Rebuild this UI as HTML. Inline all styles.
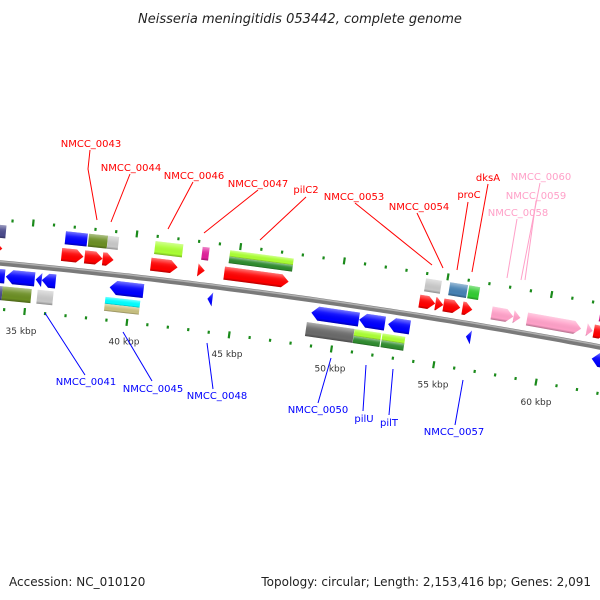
<!DOCTYPE html>
<html><head><meta charset="utf-8"><style>
html,body{margin:0;padding:0;background:#fff;}
svg{display:block;font-family:"DejaVu Sans","Liberation Sans",sans-serif;}
</style></head><body>
<svg id="s" width="600" height="600" xmlns="http://www.w3.org/2000/svg">
<defs id="d"></defs>
<text x="300" y="23" text-anchor="middle" font-size="13" font-style="italic" fill="#222">Neisseria meningitidis 053442, complete genome</text>
<text x="9" y="586" font-size="12" fill="#222">Accession: NC_010120</text>
<text x="591" y="586" text-anchor="end" font-size="12" fill="#222">Topology: circular; Length: 2,153,416 bp; Genes: 2,091</text>
<g id="g"></g>
</svg>
<script>
var NS="http://www.w3.org/2000/svg";
var g=document.getElementById('g'),defs=document.getElementById('d');
function Y(x){return 263+0.0933*x+0.0000778*x*x;}
function A(x){return Math.atan(0.0933+2*0.0000778*x)*180/Math.PI;}
function el(t,a,p){var e=document.createElementNS(NS,t);for(var k in a)e.setAttribute(k,a[k]);(p||g).appendChild(e);return e;}
// backbone
var pts=[];for(var x=-10;x<=610;x+=10)pts.push(x+","+Y(x).toFixed(1));
el('polyline',{points:pts.join(' '),fill:'none',stroke:'#7a7a7a','stroke-width':5.5});
el('polyline',{points:pts.join(' '),fill:'none',stroke:'#b0b0b0','stroke-width':1.5,transform:'translate(0,-1.5)'});
var gi=0,gc={};
function grad(c){if(gc[c])return gc[c];var id='gr'+(gi++);var lg=el('linearGradient',{id:id,x1:0,y1:0,x2:0,y2:1},defs);
el('stop',{offset:'0','stop-color':'#fff','stop-opacity':0.45},lg);el('stop',{offset:'0.35','stop-color':'#fff','stop-opacity':0.1},lg);
el('stop',{offset:'0.8','stop-color':'#000','stop-opacity':0},lg);el('stop',{offset:'1','stop-color':'#000','stop-opacity':0.3},lg);gc[c]=id;return id;}
function grp(xc){return el('g',{transform:'translate('+xc+','+Y(xc).toFixed(2)+') rotate('+A(xc).toFixed(2)+')'});}
var ROWS={F1:[-21,-8],F2:[-38,-25],R1:[6,20],R2:[23,37]};
// dir: 1 right arrow, -1 left arrow, 0 box
function feat(x1,x2,row,color,dir,half){
 var xc=(x1+x2)/2,w=x2-x1,h=w/2,r=ROWS[row],v1=r[0],v2=r[1];
 if(half==1)v2=(r[0]+r[1])/2; if(half==2)v1=(r[0]+r[1])/2;
 var gp=grp(xc),p,vm=(v1+v2)/2,ah=Math.min(7,w);
 if(dir==1)p=[[-h,v1],[h-ah,v1],[h,vm],[h-ah,v2],[-h,v2]];
 else if(dir==-1)p=[[h,v1],[-h+ah,v1],[-h,vm],[-h+ah,v2],[h,v2]];
 else p=[[-h,v1],[h,v1],[h,v2],[-h,v2]];
 var s=p.map(function(q){return q[0].toFixed(1)+','+q[1];}).join(' ');
 el('polygon',{points:s,fill:color},gp);
 el('polygon',{points:s,fill:'url(#'+grad(color)+')'},gp);
}
// ticks
for(var k=33;k<=64;k++){
 var xc=29+20.6*(k-35);var gp=grp(xc);var maj=(k%5==0);
 var L=maj?7:3;
 el('rect',{x:-1,y:-43-L/2,width:2.2,height:L,fill:'#1a8a1a'},gp);
 el('rect',{x:-1,y:46-L/2,width:2.2,height:L,fill:'#1a8a1a'},gp);
 if(maj){var yy=Y(xc)+68,xx=xc-8-0.13*0;el('text',{x:xx,y:yy,'text-anchor':'middle','font-size':9,fill:'#333'}).textContent=k+' kbp';}
}
var R='#ff0000',B='#0000ff',P='#ffa0c8',LI='#aaff33',GR='#2e8b2e',OL='#6b8e23',GY='#c8c8c8',DG='#6a6a6a';
// upper F2
feat(-4,3,'F2','#4b4b8c',0);
feat(62,84,'F2',B,0);feat(85,104,'F2',OL,0);feat(104,115,'F2',GY,0);
feat(151,179,'F2',LI,0);feat(198,205,'F2','#e0209a',0);
feat(225,289,'F2',LI,0,1);feat(225,289,'F2',GR,0,2);
feat(420,436,'F2',GY,0);feat(444,462,'F2','#4682b4',0);feat(463,474,'F2','#33cc33',0);
feat(594,604,'F2','#e0209a',0);
// F1
feat(-6,1,'F1',R,1);
feat(60,82,'F1',R,1);feat(83,101,'F1',R,1);feat(101,112,'F1',R,1);
feat(149,176,'F1',R,1);feat(196,203,'F1',R,1);feat(222,287,'F1',R,1);
feat(417,433,'F1',R,1);feat(433,441,'F1',R,1);feat(441,458,'F1',R,1);feat(460,470,'F1',R,1);
feat(489,511,'F1',P,1);feat(511,518,'F1',P,1);feat(524,579,'F1',P,1);feat(584,590,'F1',P,1);feat(591,604,'F1',R,1);
// R1
feat(-6,6,'R1',B,-1);feat(7,36,'R1',B,-1);feat(37,43,'R1',B,-1);feat(43,57,'R1',B,-1);
feat(111,145,'R1',B,-1);feat(209,214,'R1',B,-1);
feat(313,361,'R1',B,-1);feat(361,387,'R1',B,-1);feat(390,412,'R1',B,-1);
feat(468,473,'R1',B,-1);feat(594,604,'R1',B,-1);
// R2
feat(-4,5,'R2','#4b4b8c',0);feat(5,34,'R2',OL,0);feat(40,56,'R2',GY,0);
feat(108,143,'R2','#00ffff',0,1);feat(108,143,'R2','#c8c080',0,2);
feat(310,358,'R2',DG,0);
feat(358,385,'R2',LI,0,1);feat(358,385,'R2',GR,0,2);
feat(386,409,'R2',LI,0,1);feat(386,409,'R2',GR,0,2);
// labels
function lab(t,x,y,c,line){el('text',{x:x,y:y,'font-size':10,fill:c,'text-anchor':'middle'}).textContent=t;
 el('polyline',{points:line,fill:'none',stroke:c,'stroke-width':1});}
lab('NMCC_0043',91,147,R,'90,150 88,169 97,220');
lab('NMCC_0044',131,171,R,'130,174 111,222');
lab('NMCC_0046',194,179,R,'193,182 168,229');
lab('NMCC_0047',258,187,R,'258,190 204,233');
lab('pilC2',306,193,R,'306,197 260,240');
lab('NMCC_0053',354,200,R,'355,203 432,265');
lab('NMCC_0054',419,210,R,'417,213 443,268');
lab('proC',469,198,R,'468,202 457,270');
lab('dksA',488,181,R,'488,184 472,272');
lab('NMCC_0060',541,180,P,'540,183 521,280');
lab('NMCC_0059',536,199,P,'536,201 525,280');
lab('NMCC_0058',518,216,P,'517,219 507,278');
lab('NMCC_0041',86,385,B,'85,375 45,313');
lab('NMCC_0045',153,392,B,'152,381 123,332');
lab('NMCC_0048',217,399,B,'213,389 207,343');
lab('NMCC_0050',318,413,B,'318,403 331,358');
lab('pilU',364,422,B,'363,411 366,365');
lab('pilT',389,426,B,'389,415 393,369');
lab('NMCC_0057',454,435,B,'455,425 463,380');
</script>
</body></html>
